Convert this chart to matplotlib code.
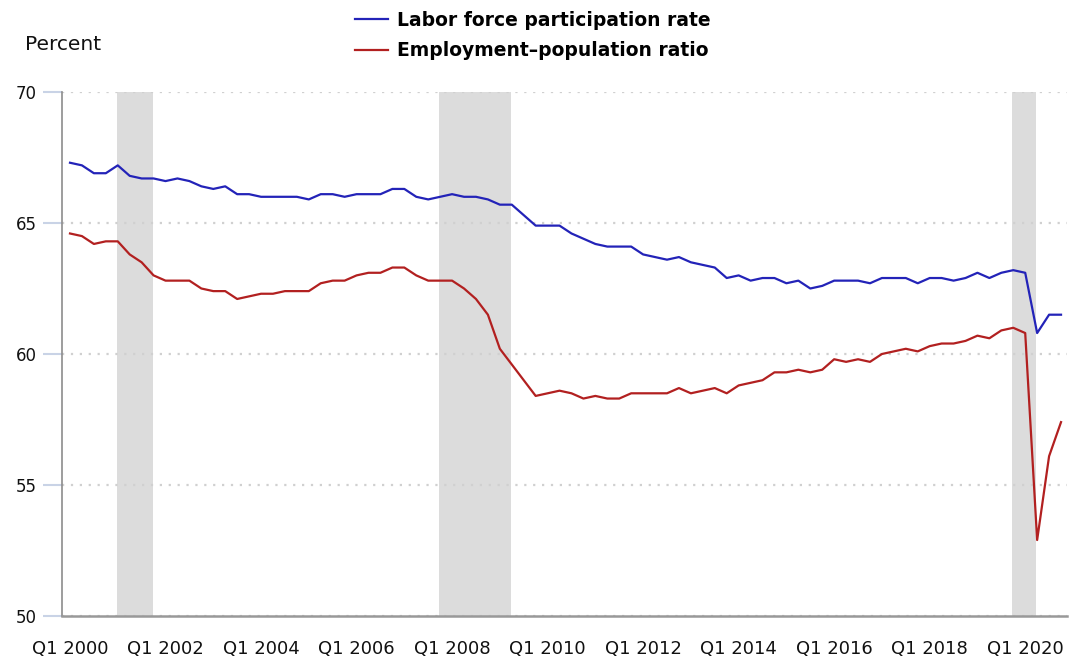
import matplotlib
matplotlib.use("Agg")
import matplotlib.pyplot as plt
from matplotlib.lines import Line2D

# Quarterly data, Q1 2000 .. Q4 2020
start_year = 2000
n_quarters = 84
lfpr = [67.3, 67.2, 66.9, 66.9, 67.2, 66.8, 66.7, 66.7,
        66.6, 66.7, 66.6, 66.4, 66.3, 66.4, 66.1, 66.1,
        66.0, 66.0, 66.0, 66.0, 65.9, 66.1, 66.1, 66.0,
        66.1, 66.1, 66.1, 66.3, 66.3, 66.0, 65.9, 66.0,
        66.1, 66.0, 66.0, 65.9, 65.7, 65.7, 65.3, 64.9,
        64.9, 64.9, 64.6, 64.4, 64.2, 64.1, 64.1, 64.1,
        63.8, 63.7, 63.6, 63.7, 63.5, 63.4, 63.3, 62.9,
        63.0, 62.8, 62.9, 62.9, 62.7, 62.8, 62.5, 62.6,
        62.8, 62.8, 62.8, 62.7, 62.9, 62.9, 62.9, 62.7,
        62.9, 62.9, 62.8, 62.9, 63.1, 62.9, 63.1, 63.2,
        63.1, 60.8, 61.5, 61.5]
epop = [64.6, 64.5, 64.2, 64.3, 64.3, 63.8, 63.5, 63.0,
        62.8, 62.8, 62.8, 62.5, 62.4, 62.4, 62.1, 62.2,
        62.3, 62.3, 62.4, 62.4, 62.4, 62.7, 62.8, 62.8,
        63.0, 63.1, 63.1, 63.3, 63.3, 63.0, 62.8, 62.8,
        62.8, 62.5, 62.1, 61.5, 60.2, 59.6, 59.0, 58.4,
        58.5, 58.6, 58.5, 58.3, 58.4, 58.3, 58.3, 58.5,
        58.5, 58.5, 58.5, 58.7, 58.5, 58.6, 58.7, 58.5,
        58.8, 58.9, 59.0, 59.3, 59.3, 59.4, 59.3, 59.4,
        59.8, 59.7, 59.8, 59.7, 60.0, 60.1, 60.2, 60.1,
        60.3, 60.4, 60.4, 60.5, 60.7, 60.6, 60.9, 61.0,
        60.8, 52.9, 56.1, 57.4]
# Recession shading (quarter index from Q1 2000)
recession_start = [4, 31, 79]
recession_end = [7, 37, 81]
tick_labels = ["Q1 2000", "Q1 2002", "Q1 2004", "Q1 2006", "Q1 2008", "Q1 2010",
               "Q1 2012", "Q1 2014", "Q1 2016", "Q1 2018", "Q1 2020"]
series_names = ["Labor force participation rate", "Employment\u2013population ratio"]

BLUE = "#2323b8"
RED = "#b22020"

W, H = 1069, 659
fig = plt.figure(figsize=(W / 100, H / 100), dpi=100)
ax = fig.add_axes([62 / W, 1 - 616 / H, (1067 - 62) / W, (616 - 92) / H])

x = list(range(n_quarters))
for s, e in zip(recession_start, recession_end):
    ax.axvspan(s - 0.08, e - 0.08, color="#dcdcdc", lw=0, zorder=1)

ax.plot(x, lfpr, color=BLUE, lw=1.6, zorder=3)
ax.plot(x, epop, color=RED, lw=1.6, zorder=3)

ax.set_xlim(-0.67, 83.5)
ax.set_ylim(50, 70)
ax.set_yticks([50, 55, 60, 65, 70])
ax.set_xticks([8 * k for k in range(len(tick_labels))])
ax.set_xticklabels(tick_labels)

ax.grid(axis="y", color="#d0d0d0", lw=1.6, dashes=(1, 3))
ax.grid(axis="x", visible=False)

for sp in ["top", "right"]:
    ax.spines[sp].set_visible(False)
ax.spines["left"].set_color("#8c8c8c")
ax.spines["left"].set_linewidth(1.2)
ax.spines["bottom"].set_color("#999999")
ax.spines["bottom"].set_linewidth(1.8)

ax.tick_params(axis="y", length=14, width=1.5, color="#c9d3e6", pad=4,
               labelsize=12, labelcolor="#111111")
ax.tick_params(axis="x", length=0, pad=17, labelsize=13, labelcolor="#111111")

fig.text(25 / W, 1 - 45 / H, "Percent", ha="left", va="center", fontsize=14.5,
         color="#111111")

handles = [Line2D([], [], color=BLUE, lw=1.6), Line2D([], [], color=RED, lw=1.6)]
fig.legend(handles, series_names, loc="upper left",
           bbox_to_anchor=(355 / W, 1 - 11 / H), frameon=False,
           borderpad=0, borderaxespad=0, handlelength=1.75, handletextpad=0.5,
           labelspacing=0.6, prop={"weight": "bold", "size": 13.5})

fig.savefig("out.png", dpi=100)
